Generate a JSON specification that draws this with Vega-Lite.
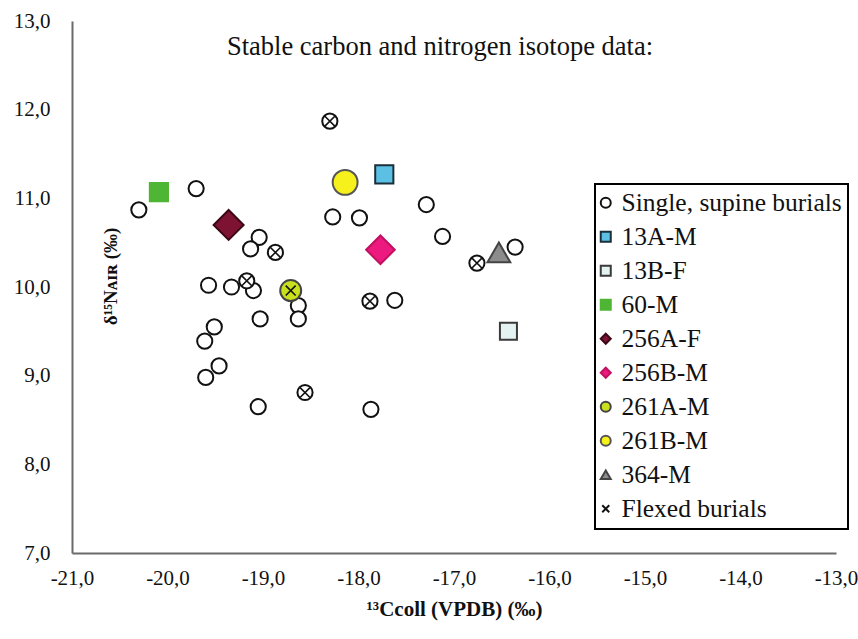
{
  "$schema": "https://vega.github.io/schema/vega-lite/v6.json",
  "width": 858,
  "height": 639,
  "autosize": {"type": "fit", "contains": "padding"},
  "padding": {"left": 13, "top": 10, "right": 0, "bottom": 20},
  "background": "white",
  "title": {
    "text": "Stable carbon and nitrogen isotope data:",
    "font": "Liberation Serif",
    "fontSize": 26.5,
    "fontWeight": "normal",
    "color": "#111",
    "anchor": "middle",
    "frame": "group",
    "offset": -50,
    "dx": -14
  },
  "data": {
    "values": [
      {"c": -20.30, "n": 10.87, "g": "Single, supine burials", "f": false},
      {"c": -19.70, "n": 11.11, "g": "Single, supine burials", "f": false},
      {"c": -19.04, "n": 10.56, "g": "Single, supine burials", "f": false},
      {"c": -19.13, "n": 10.43, "g": "Single, supine burials", "f": false},
      {"c": -19.57, "n": 10.02, "g": "Single, supine burials", "f": false},
      {"c": -19.33, "n": 10.00, "g": "Single, supine burials", "f": false},
      {"c": -19.10, "n": 9.96, "g": "Single, supine burials", "f": false},
      {"c": -18.63, "n": 9.79, "g": "Single, supine burials", "f": false},
      {"c": -18.63, "n": 9.64, "g": "Single, supine burials", "f": false},
      {"c": -19.03, "n": 9.64, "g": "Single, supine burials", "f": false},
      {"c": -19.51, "n": 9.55, "g": "Single, supine burials", "f": false},
      {"c": -19.61, "n": 9.39, "g": "Single, supine burials", "f": false},
      {"c": -19.46, "n": 9.11, "g": "Single, supine burials", "f": false},
      {"c": -19.60, "n": 8.98, "g": "Single, supine burials", "f": false},
      {"c": -19.05, "n": 8.65, "g": "Single, supine burials", "f": false},
      {"c": -18.27, "n": 10.79, "g": "Single, supine burials", "f": false},
      {"c": -17.99, "n": 10.78, "g": "Single, supine burials", "f": false},
      {"c": -17.29, "n": 10.93, "g": "Single, supine burials", "f": false},
      {"c": -17.12, "n": 10.57, "g": "Single, supine burials", "f": false},
      {"c": -16.36, "n": 10.45, "g": "Single, supine burials", "f": false},
      {"c": -17.62, "n": 9.85, "g": "Single, supine burials", "f": false},
      {"c": -17.87, "n": 8.62, "g": "Single, supine burials", "f": false},
      {"c": -18.87, "n": 10.39, "g": "Single, supine burials", "f": true},
      {"c": -19.17, "n": 10.07, "g": "Single, supine burials", "f": true},
      {"c": -18.56, "n": 8.81, "g": "Single, supine burials", "f": true},
      {"c": -18.30, "n": 11.87, "g": "Single, supine burials", "f": true},
      {"c": -16.76, "n": 10.27, "g": "Single, supine burials", "f": true},
      {"c": -17.88, "n": 9.84, "g": "Single, supine burials", "f": true},
      {"c": -17.73, "n": 11.27, "g": "13A-M", "f": false},
      {"c": -16.43, "n": 9.50, "g": "13B-F", "f": false},
      {"c": -20.09, "n": 11.07, "g": "60-M", "f": false},
      {"c": -19.36, "n": 10.70, "g": "256A-F", "f": false},
      {"c": -17.77, "n": 10.42, "g": "256B-M", "f": false},
      {"c": -18.71, "n": 9.96, "g": "261A-M", "f": true},
      {"c": -18.14, "n": 11.18, "g": "261B-M", "f": false},
      {"c": -16.53, "n": 10.39, "g": "364-M", "f": false}
    ]
  },
  "encoding": {
    "x": {
      "field": "c",
      "type": "quantitative",
      "scale": {"domain": [-21, -13], "nice": false, "zero": false},
      "axis": {
        "values": [-21, -20, -19, -18, -17, -16, -15, -14, -13],
        "format": ".1f",
        "labelFlush": false,
        "labelOverlap": false,
        "title": "¹³Ccoll (VPDB) (‰)",
        "titleFontWeight": "bold",
        "titleFontSize": 21,
        "labelPadding": 14,
        "titlePadding": 10
      }
    },
    "y": {
      "field": "n",
      "type": "quantitative",
      "scale": {"domain": [7, 13], "nice": false, "zero": false},
      "axis": {
        "values": [7, 8, 9, 10, 11, 12, 13],
        "format": ".1f",
        "labelFlush": false,
        "labelOverlap": false,
        "title": "δ¹⁵Nᴀɪʀ (‰)",
        "titleFontWeight": "bold",
        "titleFontSize": 19,
        "titleX": 48,
        "titleY": 255,
        "titleBaseline": "bottom",
        "labelPadding": 22
      }
    }
  },
  "layer": [
    {
      "mark": {"type": "point", "filled": true, "opacity": 1, "strokeWidth": 2},
      "encoding": {
        "shape": {
          "field": "g",
          "type": "nominal",
          "scale": {
            "domain": ["Single, supine burials", "13A-M", "13B-F", "60-M", "256A-F", "256B-M", "261A-M", "261B-M", "364-M", "Flexed burials"],
            "range": ["circle", "square", "square", "square", "diamond", "diamond", "circle", "circle", "triangle-up", "M-0.7,-0.7L0.7,0.7M-0.7,0.7L0.7,-0.7"]
          },
          "legend": {
            "title": null,
            "orient": "none",
            "legendX": 523,
            "legendY": 163,
            "strokeColor": "black",
            "fillColor": "white",
            "padding": 6,
            "labelFont": "Liberation Serif",
            "labelFontSize": 25.5,
            "labelColor": "#111",
            "labelLimit": 400,
            "symbolSize": 100,
            "symbolStrokeWidth": 2,
            "symbolOffset": -8,
            "labelOffset": 3,
            "rowPadding": 7,
            "symbolOpacity": 1
          }
        },
        "fill": {
          "field": "g",
          "type": "nominal",
          "scale": {
            "domain": ["Single, supine burials", "13A-M", "13B-F", "60-M", "256A-F", "256B-M", "261A-M", "261B-M", "364-M", "Flexed burials"],
            "range": ["white", "#5cc0e4", "#e4f2f2", "#4fb534", "#7d1232", "#ec1a7e", "#c9e01f", "#f6f01c", "#8c8c8c", "transparent"]
          },
          "legend": {"title": null}
        },
        "stroke": {
          "field": "g",
          "type": "nominal",
          "scale": {
            "domain": ["Single, supine burials", "13A-M", "13B-F", "60-M", "256A-F", "256B-M", "261A-M", "261B-M", "364-M", "Flexed burials"],
            "range": ["#111", "#1b2f3a", "#3a3a3a", "#4fb534", "#3d0816", "#c01060", "#444", "#555", "#444", "#111"]
          },
          "legend": {"title": null}
        },
        "size": {
          "field": "g",
          "type": "nominal",
          "scale": {
            "type": "ordinal",
            "domain": ["Single, supine burials", "13A-M", "13B-F", "60-M", "256A-F", "256B-M", "261A-M", "261B-M", "364-M"],
            "range": [230, 330, 290, 330, 900, 820, 440, 620, 520]
          },
          "legend": null
        }
      }
    },
    {
      "transform": [{"filter": "datum.f"}],
      "mark": {
        "type": "point",
        "filled": false,
        "opacity": 1,
        "shape": "M-0.7,-0.7L0.7,0.7M-0.7,0.7L0.7,-0.7",
        "stroke": "#111",
        "strokeWidth": 1.6,
        "size": 200
      },
      "encoding": {}
    }
  ],
  "config": {
    "locale": {
      "number": {"decimal": ",", "thousands": ".", "grouping": [3], "currency": ["", ""], "minus": "-"}
    },
    "view": {"stroke": null},
    "legend": {"strokeWidth": 2},
    "axis": {
      "grid": false,
      "ticks": false,
      "domainColor": "#6a6a6a",
      "domainWidth": 2,
      "labelFont": "Liberation Serif",
      "labelFontSize": 21,
      "labelColor": "#111",
      "titleFont": "Liberation Serif",
      "titleColor": "#111"
    }
  }
}
